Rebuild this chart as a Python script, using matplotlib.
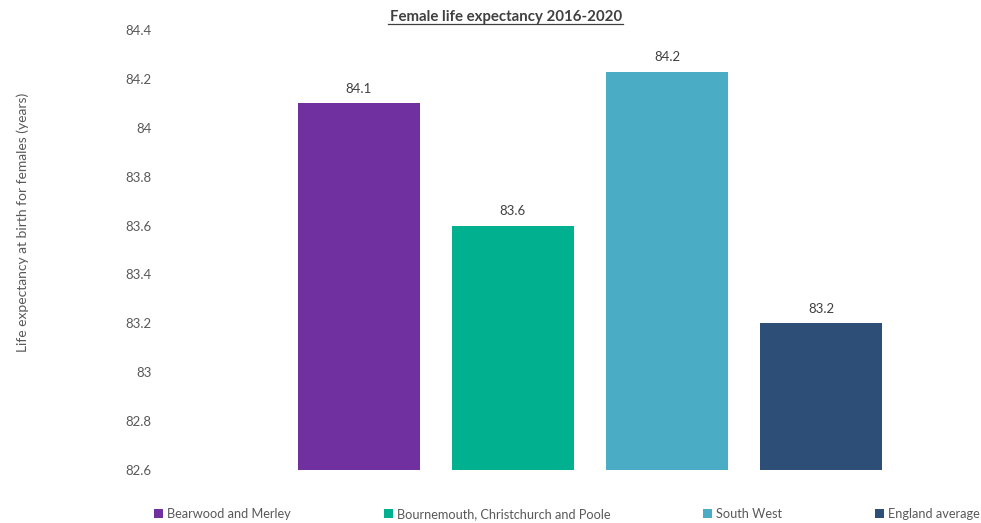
import matplotlib
matplotlib.use("Agg")
import matplotlib.pyplot as plt
from matplotlib.patches import Patch

areas = ["Bearwood and Merley", "Bournemouth, Christchurch and Poole", "South West", "England average"]
life_expectancy = [84.1, 83.6, 84.23, 83.2]
colors = ["#7030A0", "#00B08F", "#4BACC6", "#2D4F77"]
yticks = [82.6, 82.8, 83.0, 83.2, 83.4, 83.6, 83.8, 84.0, 84.2, 84.4]
ytick_labels = ["82.6", "82.8", "83", "83.2", "83.4", "83.6", "83.8", "84", "84.2", "84.4"]

plt.rcParams["font.family"] = ["Lato", "DejaVu Sans"]

W, H = 981, 523
fig = plt.figure(figsize=(W / 100, H / 100), dpi=100)
left_px, right_px, top_px, bottom_px = 160, 900, 30, 470
ax = fig.add_axes([left_px / W, 1 - bottom_px / H, (right_px - left_px) / W, (bottom_px - top_px) / H])

pitch = 154.0
x = list(range(len(areas)))
bars = ax.bar(x, [v - 82.6 for v in life_expectancy], bottom=82.6, width=122 / pitch, color=colors)
for b, v in zip(bars, life_expectancy):
    ax.annotate(f"{v:.1f}", (b.get_x() + b.get_width() / 2, v), xytext=(0, 6),
                textcoords="offset points", ha="center", va="bottom", fontsize=9.5, color="#404040")

ax.set_xlim((left_px - 359) / pitch, (right_px - 359) / pitch)
ax.set_ylim(82.6, 84.4)
ax.set_yticks(yticks)
ax.set_yticklabels(ytick_labels, fontsize=9.5, color="#595959")
ax.tick_params(axis="y", length=0, pad=6)
ax.set_xticks([])
for s in ax.spines.values():
    s.set_visible(False)

ax.set_ylabel("Life expectancy at birth for females (years)", fontsize=10, color="#595959")
ax.yaxis.set_label_coords(-(left_px - 29) / (right_px - left_px), (bottom_px - 222) / (bottom_px - top_px))

fig.text(506 / W, 1 - 17 / H, "Female life expectancy 2016-2020", ha="center", va="center",
         fontsize=10.8, fontweight="bold", color="#404040")
# underline for the title
fig.add_artist(plt.Line2D([388 / W, 623 / W], [1 - 24 / H, 1 - 24 / H], color="#404040", lw=0.9))

handles = [Patch(facecolor=c) for c in colors]
leg = fig.legend(handles, areas, loc="center left", bbox_to_anchor=(154 / W, 1 - 514 / H), ncol=4,
                 frameon=False, fontsize=9.2, handlelength=0.7, handleheight=0.7, handletextpad=0.3,
                 columnspacing=7.3, borderaxespad=0, borderpad=0)
for t in leg.get_texts():
    t.set_color("#595959")

fig.savefig("out.png", dpi=100)
